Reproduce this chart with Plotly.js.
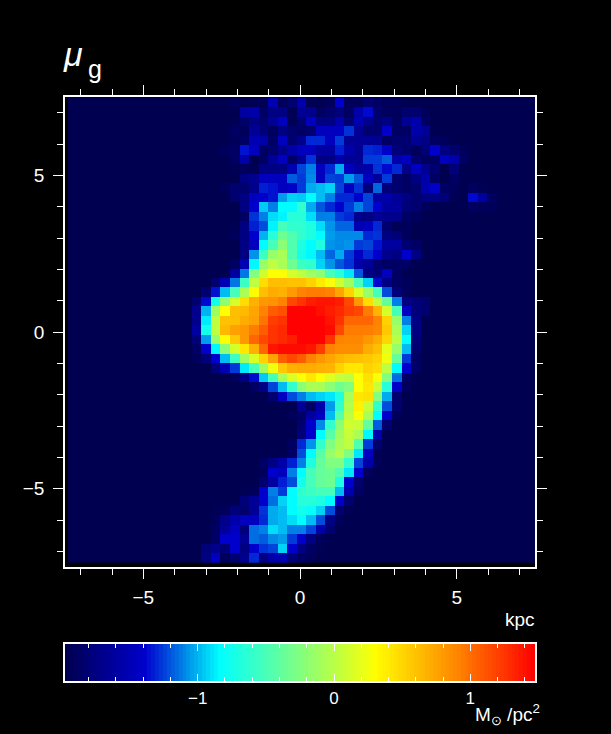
<!DOCTYPE html>
<html>
<head>
<meta charset="utf-8">
<script src="https://cdn.plot.ly/plotly-3.0.1.min.js"></script>
<style>html,body{margin:0;padding:0;background:#000}</style>
</head>
<body>
<div id="plot" style="width:611px;height:734px"></div>
<script>
// log surface density on a 49 x 49 grid, top row first.
// each row only lists the cells that differ from the sky level, from its start column on
const skyLevel = -1.97;
const gridSize = 49;
const rowStarts = [17,18,17,17,17,16,17,17,17,16,17,18,18,17,17,18,18,17,17,15,14,13,13,13,13,13,13,13,15,17,19,21,24,23,24,24,23,23,20,20,20,18,18,15,15,15,15,14,14];
const rowValues = [
  [-1.92,-1.97,-1.95,-1.95,-1.51,-1.92,-1.83,-1.55,-1.95,-1.97,-1.92,-1.41,-1.92,-1.92,-1.83,-1.88,-1.92,-1.92],
  [-1.6,-1.55,-1.88,-1.74,-1.74,-1.95,-1.65,-1.69,-1.9,-1.83,-1.78,-1.88,-1.55,-1.37,-1.83,-1.9,-1.92,-1.83,-1.83,-1.92],
  [-1.95,-1.85,-1.74,-1.83,-1.65,-1.46,-1.95,-1.83,-1.46,-1.74,-1.74,-1.55,-1.83,-1.51,-1.69,-1.83,-1.74,-1.9,-1.65,-1.55,-1.88],
  [-1.88,-1.92,-1.65,-1.78,-1.9,-1.74,-1.83,-1.88,-1.83,-1.46,-1.46,-1.46,-1.28,-1.65,-1.83,-1.83,-1.41,-1.88,-1.88,-1.55,-1.65],
  [-1.92,-1.88,-1.51,-1.55,-1.88,-1.46,-1.83,-1.69,-1.3,-1.3,-1.46,-1.26,-1.65,-1.65,-1.65,-1.65,-1.88,-1.83,-1.83,-1.65,-1.74,-1.9,-1.92],
  [-1.92,-1.88,-1.35,-1.46,-1.88,-1.83,-1.69,-1.55,-1.46,-1.46,-1.6,-1.6,-1.32,-1.55,-1.65,-1.3,-1.32,-1.41,-1.78,-1.83,-1.92,-1.78,-1.41,-1.74,-1.83,-1.92],
  [-1.88,-1.55,-1.97,-1.88,-1.65,-1.46,-1.88,-1.65,-1.28,-1.74,-1.74,-1.55,-1.65,-1.65,-1.26,-1.26,-1.19,-1.55,-1.46,-1.83,-1.92,-1.88,-1.46,-1.55,-1.88],
  [-1.95,-1.92,-1.95,-1.74,-1.74,-1.74,-1.51,-1.24,-1.11,-1.46,-1.3,-1.02,-1.46,-1.6,-1.55,-1.28,-1.37,-1.3,-1.69,-1.46,-1.69,-1.83,-1.97,-1.78],
  [-1.97,-1.74,-1.69,-1.46,-1.46,-1.46,-1.19,-1.26,-1.09,-1.46,-1.24,-1.26,-1.05,-1.2,-1.46,-1.65,-1.26,-1.83,-1.88,-1.74,-1.55,-1.88,-1.97,-1.88],
  [-1.92,-1.83,-1.83,-1.69,-1.32,-1.35,-1.46,-1.41,-1.26,-1.02,-.98,-.93,-1.24,-1.46,-1.28,-1.78,-1.17,-1.78,-1.83,-1.88,-1.83,-1.55,-1.41,-1.88,-1.92,-1.97,-1.9,-1.95],
  [-1.83,-1.74,-1.46,-1.39,-1.35,-1.05,-.93,-.95,-.84,-.98,-1.11,-1.3,-1.3,-1.39,-1.24,-1.6,-1.55,-1.65,-1.74,-1.83,-1.74,-1.74,-1.78,-1.95,-1.97,-1.37,-1.6,-1.9],
  [-1.74,-1.39,-.95,-1.11,-.84,-.84,-.61,-1.02,-1.2,-1.3,-1.39,-1.26,-1.11,-1.24,-1.39,-1.6,-1.6,-1.78,-1.83,-1.92,-1.97,-1.97,-1.97,-1.97,-1.9,-1.92,-1.92],
  [-1.88,-1.28,-1.11,-.91,-.86,-.66,-.66,-.91,-1.11,-1.11,-1.26,-1.3,-1.69,-1.74,-1.65,-1.69,-1.69,-1.88,-1.92],
  [-1.95,-1.74,-1.32,-1.22,-.86,-.52,-.61,-.61,-.7,-.91,-1.07,-1.17,-1.17,-1.51,-1.46,-1.3,-1.83,-1.95,-1.92],
  [-1.92,-1.74,-1.39,-1.0,-.66,-.33,-.47,-.61,-.7,-.84,-1.05,-1.09,-1.09,-1.09,-1.3,-1.28,-1.74,-1.78,-1.92],
  [-1.74,-1.46,-.84,-.52,-.2,-.47,-.7,-.84,-.7,-1.07,-1.09,-1.07,-1.26,-1.24,-1.35,-1.6,-1.6,-1.83,-1.88],
  [-1.74,-1.07,-.56,-.15,-.07,-.47,-.75,-.85,-.98,-1.17,-1.02,-1.26,-1.46,-1.3,-1.39,-1.69,-1.74,-1.39,-1.74],
  [-1.88,-1.51,-.85,-.15,.02,-.07,-.33,-.56,-.61,-.93,-1.07,-1.2,-1.28,-1.55,-1.65,-1.83,-1.88,-1.88,-1.88],
  [-1.6,-1.13,-.25,.1,.3,.28,.12,.02,-.11,-.2,-.52,-.66,-.89,-1.2,-1.74,-1.78,-1.46,-1.88],
  [-1.83,-1.51,-1.13,-.56,.02,.47,.62,.62,.6,.6,.52,.4,.28,.1,-.11,-.52,-.93,-1.37,-1.74,-1.88,-1.92],
  [-1.83,-1.35,-.98,-.52,-.07,.32,.62,.71,.69,.79,.91,.94,.94,.91,.74,.52,.15,-.15,-.52,-1.22,-1.78,-1.92],
  [-1.83,-1.37,-.75,-.2,.12,.47,.69,.81,.83,.91,1.17,1.26,1.35,1.39,1.39,1.35,1.17,.81,.47,.02,-.38,-1.11,-1.74,-1.78,-1.83],
  [-1.69,-1.0,-.11,.3,.62,.64,.74,.91,1.08,1.13,1.47,1.47,1.47,1.41,1.35,1.3,1.21,1.17,.94,.67,.12,-.52,-1.46,-1.78,-1.83],
  [-1.69,-.88,.02,.6,.62,.71,.76,.98,1.21,1.26,1.47,1.47,1.47,1.47,1.39,1.26,1.04,1.04,1.04,.91,.52,-.15,-1.11,-1.74],
  [-1.6,-.75,.02,.64,.76,.81,.94,1.08,1.26,1.3,1.47,1.47,1.47,1.47,1.43,1.17,.94,.94,.93,.89,.57,-.07,-.93,-1.74],
  [-1.78,-1.05,-.15,.3,.57,.81,1.04,1.17,1.26,1.3,1.35,1.47,1.47,1.47,1.26,.91,.89,.89,.81,.71,.5,0,-.84,-1.78],
  [-1.88,-1.39,-.85,-.2,.12,.42,.69,1.04,1.39,1.43,1.43,1.43,1.39,1.21,.91,.86,.86,.86,.71,.62,.19,-.15,-.98,-1.83],
  [-1.92,-1.78,-1.39,-.98,-.56,-.11,.15,.52,.76,1.08,1.17,1.08,.91,.81,.74,.67,.62,.6,.57,.52,.24,-.38,-1.26,-1.88],
  [-1.78,-1.51,-1.26,-.88,-.52,-.11,.24,.57,.69,.71,.71,.69,.67,.52,.42,.42,.52,.47,.02,-.84,-1.39,-1.88],
  [-1.92,-1.74,-1.37,-.95,-.52,-.07,.15,.3,.42,.3,.17,.06,.02,.3,.45,.28,-.25,-1.15,-1.88],
  [-1.88,-1.74,-1.24,-.98,-.61,-.2,-.07,-.07,-.2,-.33,-.25,.3,.42,.06,-.66,-1.41,-1.92],
  [-1.83,-1.46,-1.22,-1.11,-.98,-.93,-.89,-.7,-.07,.42,.45,-.25,-1.02,-1.83],
  [-1.65,-1.88,-1.55,-1.05,-.61,-.03,.37,.06,-.61,-1.22,-1.83],
  [-1.92,-1.88,-1.6,-1.46,-.98,-.43,.02,.28,-.07,-.84,-1.41,-1.92],
  [-1.83,-1.39,-1.09,-.61,-.2,.1,.06,-.38,-1.19,-1.83],
  [-1.78,-1.39,-.84,-.43,-.11,.06,-.07,-.85,-1.55],
  [-1.88,-1.3,-1.07,-.61,-.25,-.07,.02,-.47,-1.26,-1.83],
  [-1.88,-1.22,-.84,-.43,-.15,-.03,-.25,-.89,-1.46,-1.95],
  [-1.88,-1.74,-1.55,-1.32,-1.11,-.7,-.38,-.25,-.25,-.61,-1.24,-1.55,-1.92],
  [-1.92,-1.39,-1.46,-1.11,-.84,-.52,-.38,-.33,-.47,-.89,-1.41,-1.92],
  [-1.83,-1.6,-1.32,-1.22,-.75,-.52,-.38,-.33,-.7,-1.39,-1.83],
  [-1.95,-1.92,-1.39,-1.11,-1.26,-.84,-.61,-.56,-.52,-.52,-.98,-1.55,-1.88],
  [-1.78,-1.65,-1.39,-1.15,-.93,-.84,-.66,-.66,-.7,-.84,-1.41,-1.83],
  [-1.95,-1.92,-1.78,-1.83,-1.65,-1.28,-1.02,-.98,-.84,-.75,-.8,-.93,-1.22,-1.83,-1.95],
  [-1.92,-1.69,-1.55,-1.46,-1.46,-1.3,-1.02,-.98,-.91,-.84,-.98,-1.22,-1.74,-1.92],
  [-1.88,-1.65,-1.46,-1.78,-1.15,-1.11,-.91,-.98,-1.11,-1.11,-1.24,-1.55,-1.83],
  [-1.88,-1.39,-1.39,-1.65,-1.15,-1.19,-1.09,-1.05,-1.26,-1.41,-1.74,-1.92],
  [-1.78,-1.69,-1.78,-1.39,-1.74,-1.39,-1.28,-1.24,-.93,-1.39,-1.74,-1.88,-1.95],
  [-1.74,-1.46,-1.92,-1.83,-1.69,-1.3,-1.74,-1.55,-1.51,-1.78,-1.88,-1.92]
];

const zMin = -1.974;
const zMax = 1.475;
const colorStops = [
  [0, "#000050"],
  [0.17, "#0000cd"],
  [0.33, "#00ffff"],
  [0.5, "#80ff80"],
  [0.66, "#ffff00"],
  [0.84, "#ff8000"],
  [1, "#ff0000"],
];

// the map does not quite fill the frame, these are its edges in kpc
const mapLeft = -7.405;
const mapRight = 7.484;
const mapBottom = -7.364;
const mapTop = 7.478;
const dx = (mapRight - mapLeft) / gridSize;
const dy = (mapTop - mapBottom) / gridSize;

// pad the rows out to the full grid
const z = [];
for (let j = gridSize - 1; j >= 0; j--) {
  const row = new Array(gridSize).fill(skyLevel);
  for (let k = 0; k < rowValues[j].length; k++) {
    row[rowStarts[j] + k] = rowValues[j][k];
  }
  z.push(row);
}

// wedge steps from zMin to zMax
const wedgeSteps = 120;
const wedgeValues = [];
for (let i = 0; i < wedgeSteps; i++) {
  wedgeValues.push(zMin + (i + 0.5) * (zMax - zMin) / wedgeSteps);
}

const white = "#ffffff";
const fontFamily = "Liberation Sans, sans-serif";
const font = { family: fontFamily, size: 19, color: white };
const wedgeFont = { family: fontFamily, size: 17, color: white };

function frameAxis(extra) {
  return Object.assign({
    showgrid: false,
    zeroline: false,
    showline: true,
    linecolor: white,
    linewidth: 1.5,
    mirror: "allticks",
    ticks: "outside",
    tickcolor: white,
    tickwidth: 1,
    ticklen: 10,
    tickfont: font,
    dtick: 5,
    tick0: 0,
    minor: { dtick: 1, ticks: "outside", ticklen: 6, tickcolor: white, tickwidth: 1, showgrid: false },
  }, extra);
}

const data = [
  {
    type: "heatmap",
    z: z,
    x0: mapLeft + dx / 2,
    dx: dx,
    y0: mapBottom + dy / 2,
    dy: dy,
    zmin: zMin,
    zmax: zMax,
    colorscale: colorStops,
    showscale: false,
    hoverinfo: "skip",
  },
  {
    type: "heatmap",
    z: [wedgeValues],
    x: wedgeValues,
    y: [0],
    zmin: zMin,
    zmax: zMax,
    colorscale: colorStops,
    showscale: false,
    hoverinfo: "skip",
    xaxis: "x2",
    yaxis: "y2",
  },
];

const layout = {
  width: 611,
  height: 734,
  margin: { l: 0, r: 0, t: 0, b: 0 },
  paper_bgcolor: "#000000",
  plot_bgcolor: "#000000",
  font: font,
  showlegend: false,
  xaxis: frameAxis({
    domain: [65 / 611, 535 / 611],
    range: [-7.5, 7.5],
    anchor: "y",
    ticklabelstandoff: 2,
  }),
  yaxis: frameAxis({
    domain: [(734 - 567) / 734, (734 - 97) / 734],
    range: [-7.5, 7.5],
    anchor: "x",
    ticklabelstandoff: 5,
  }),
  xaxis2: {
    domain: [65 / 611, 535 / 611],
    range: [zMin, zMax],
    anchor: "y2",
    showgrid: false,
    zeroline: false,
    showline: true,
    linecolor: white,
    linewidth: 1.5,
    mirror: "allticks",
    ticks: "inside",
    tickcolor: white,
    tickwidth: 1,
    ticklen: 7,
    tickfont: wedgeFont,
    dtick: 1,
    tick0: 0,
    ticklabelstandoff: 1,
    minor: { dtick: 0.2, ticks: "inside", ticklen: 4, tickcolor: white, tickwidth: 1, showgrid: false },
  },
  yaxis2: {
    domain: [(734 - 681) / 734, (734 - 644) / 734],
    range: [-0.5, 0.5],
    anchor: "x2",
    showgrid: false,
    zeroline: false,
    showline: true,
    linecolor: white,
    linewidth: 1.5,
    mirror: true,
    ticks: "",
    showticklabels: false,
  },
  annotations: [
    { text: "<i>μ</i>", xref: "paper", yref: "paper", x: 61 / 611, y: 1 - 54 / 734, xanchor: "left", yanchor: "middle", showarrow: false,
      font: { family: fontFamily, size: 34, color: white } },
    { text: "g", xref: "paper", yref: "paper", x: 86 / 611, y: 1 - 69 / 734, xanchor: "left", yanchor: "middle", showarrow: false,
      font: { family: fontFamily, size: 25, color: white } },
    { text: "kpc", xref: "paper", yref: "paper", x: 537 / 611, y: 1 - 619 / 734, xanchor: "right", yanchor: "middle", showarrow: false, font: font },
    { text: "M<sub>⊙</sub> /pc<sup>2</sup>", xref: "paper", yref: "paper", x: 542 / 611, y: 1 - 714 / 734, xanchor: "right", yanchor: "middle", showarrow: false,
      font: { family: fontFamily, size: 19, color: white } },
  ],
};

Plotly.newPlot("plot", data, layout, { displayModeBar: false });
</script>
</body>
</html>
